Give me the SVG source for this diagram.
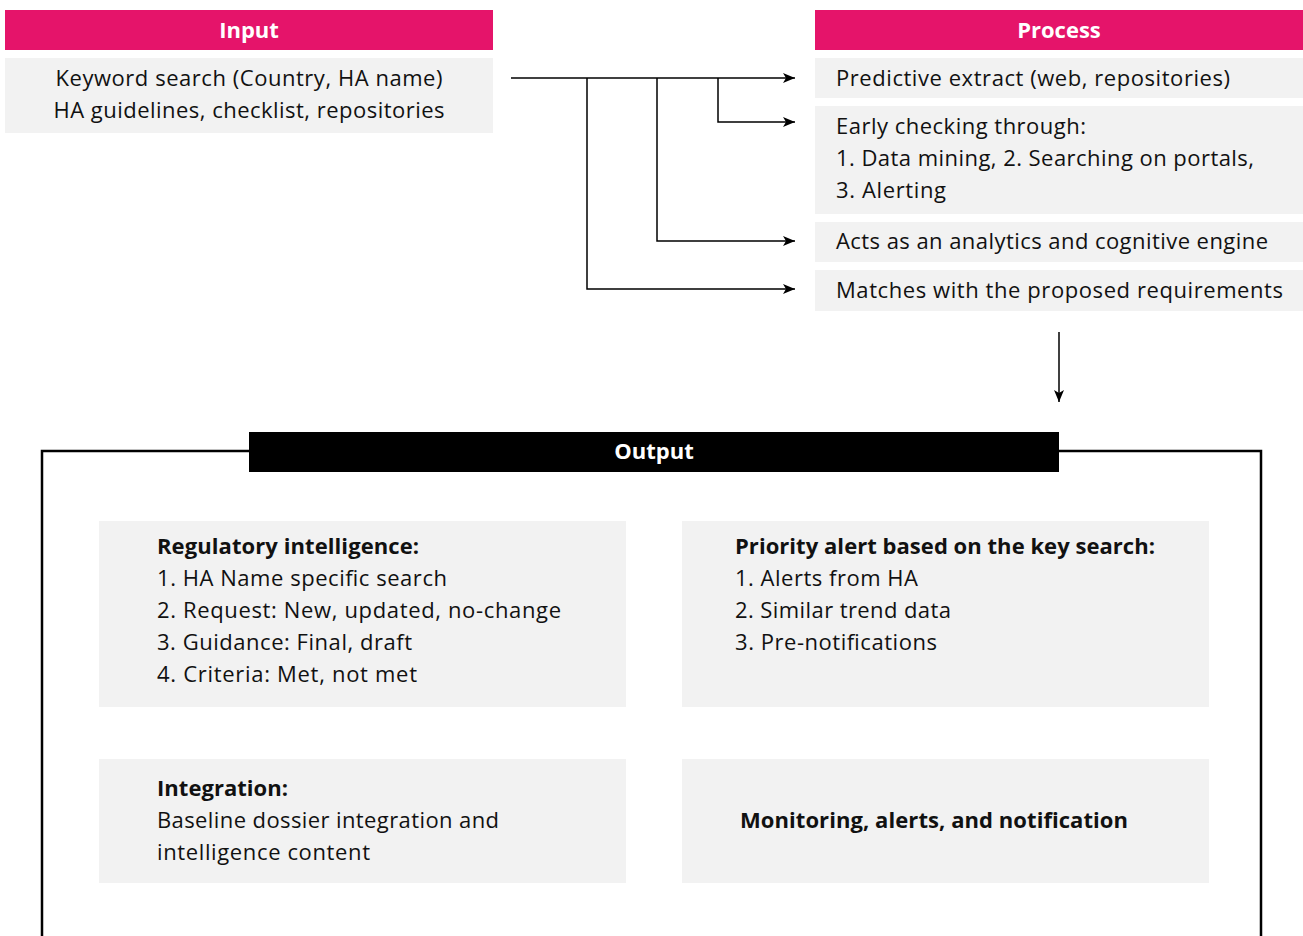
<svg xmlns="http://www.w3.org/2000/svg" width="1303" height="936" viewBox="0 0 1303 936">
<defs>
<marker id="arr" viewBox="0 0 12 10" refX="12" refY="5" markerWidth="12" markerHeight="10" markerUnits="userSpaceOnUse" orient="auto">
<path d="M0,0 L12,5 L0,10 L3,5 Z" fill="#000"/>
</marker>
</defs>
<style>
text{font-family:"Open Sans","Liberation Sans",sans-serif;font-size:22px;fill:#111}
.b{font-weight:bold}
.hd{font-weight:bold;fill:#fff;text-anchor:middle}
.c{text-anchor:middle}
.pink{fill:#E5146A}
.gray{fill:#F2F2F2}
.ln{fill:none;stroke:#000;stroke-width:1.5}
</style>
<rect x="0" y="0" width="1303" height="936" fill="#fff"/>
<g id="input-header"><rect class="pink" x="5" y="10" width="488" height="40"/><text class="hd" x="249" y="38">Input</text></g>
<g id="input-box"><rect class="gray" x="5" y="58" width="488" height="75"/>
<text class="c" x="249" y="86" textLength="387">Keyword search (Country, HA name)</text>
<text class="c" x="249" y="118" textLength="391">HA guidelines, checklist, repositories</text></g>
<g id="process-header"><rect class="pink" x="815" y="10" width="488" height="40"/><text class="hd" x="1059" y="38">Process</text></g>
<g id="p1"><rect class="gray" x="815" y="58" width="488" height="40"/><text x="836" y="86" textLength="394">Predictive extract (web, repositories)</text></g>
<g id="p2"><rect class="gray" x="815" y="106" width="488" height="108"/>
<text x="836" y="134" textLength="250">Early checking through:</text>
<text x="836" y="166" textLength="418">1. Data mining, 2. Searching on portals,</text>
<text x="836" y="198" textLength="110">3. Alerting</text></g>
<g id="p3"><rect class="gray" x="815" y="222" width="488" height="40"/><text x="836" y="249" textLength="432">Acts as an analytics and cognitive engine</text></g>
<g id="p4"><rect class="gray" x="815" y="270" width="488" height="41"/><text x="836" y="298" textLength="447">Matches with the proposed requirements</text></g>
<g id="output">
<path d="M42,936 V451 H249 M1059,451 H1261 V936" fill="none" stroke="#000" stroke-width="2.5"/>
<rect x="249" y="432" width="810" height="40" fill="#000"/>
<text class="hd" x="654" y="459">Output</text>
</g>
<g id="o1"><rect class="gray" x="99" y="521" width="527" height="186"/>
<text class="b" x="157" y="554" textLength="262">Regulatory intelligence:</text>
<text x="157" y="586" textLength="290">1. HA Name specific search</text>
<text x="157" y="618" textLength="404">2. Request: New, updated, no-change</text>
<text x="157" y="650" textLength="255">3. Guidance: Final, draft</text>
<text x="157" y="682" textLength="260">4. Criteria: Met, not met</text></g>
<g id="o2"><rect class="gray" x="682" y="521" width="527" height="186"/>
<text class="b" x="735" y="554" textLength="420">Priority alert based on the key search:</text>
<text x="735" y="586" textLength="183">1. Alerts from HA</text>
<text x="735" y="618" textLength="216">2. Similar trend data</text>
<text x="735" y="650" textLength="202">3. Pre-notifications</text></g>
<g id="o3"><rect class="gray" x="99" y="759" width="527" height="124"/>
<text class="b" x="157" y="796" textLength="131">Integration:</text>
<text x="157" y="828" textLength="342">Baseline dossier integration and</text>
<text x="157" y="860" textLength="213">intelligence content</text></g>
<g id="o4"><rect class="gray" x="682" y="759" width="527" height="124"/>
<text class="b" x="740" y="828" textLength="388">Monitoring, alerts, and notification</text></g>
<g id="connectors">
<path class="ln" d="M511,78 H795" marker-end="url(#arr)"/>
<path class="ln" d="M718,78 V122 H795" marker-end="url(#arr)"/>
<path class="ln" d="M657,78 V241 H795" marker-end="url(#arr)"/>
<path class="ln" d="M587,78 V289 H795" marker-end="url(#arr)"/>
<path class="ln" d="M1059,332 V402" marker-end="url(#arr)"/>
</g>
</svg>
